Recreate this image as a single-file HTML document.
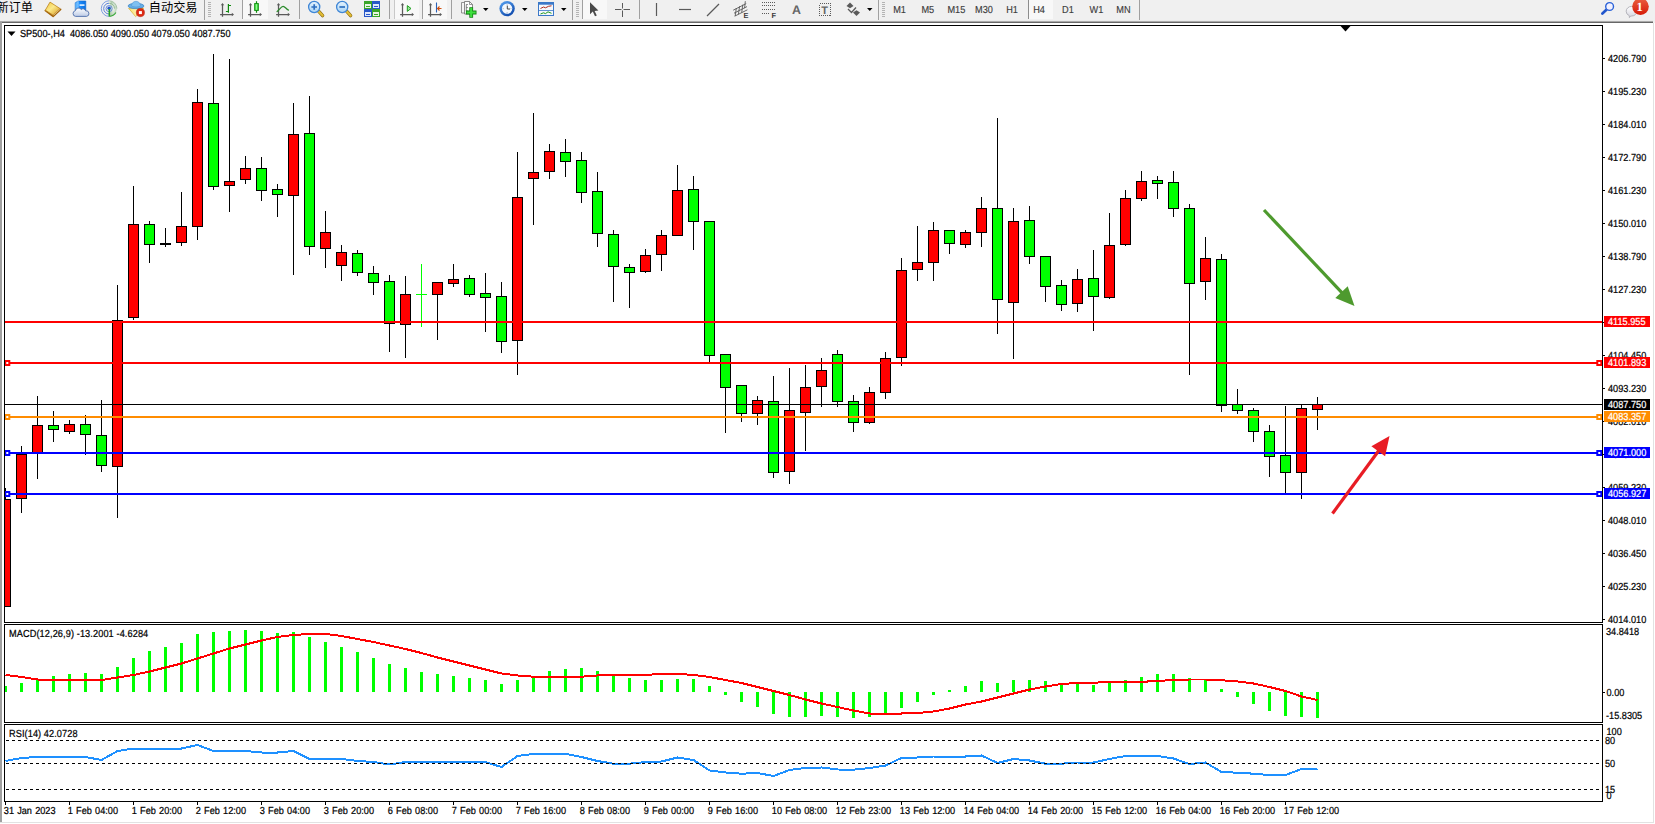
<!DOCTYPE html>
<html lang="zh-CN">
<head>
<meta charset="utf-8">
<title>SP500-,H4</title>
<style>
html,body{margin:0;padding:0;background:#fff;}
body{width:1655px;height:824px;overflow:hidden;position:relative;font-family:"Liberation Sans", sans-serif;}
#toolbar{position:absolute;left:0;top:0;width:1655px;height:20px;background:#f0f0f0;overflow:hidden;}
#tbline{position:absolute;left:0;top:20px;width:1655px;height:3px;background:#f0f0f0;}
#tbline i{position:absolute;left:0;width:1653px;height:1px;display:block;}
.cn{position:absolute;top:0;height:19px;line-height:16.5px;font-family:"Liberation Sans","Noto Sans CJK SC",sans-serif;font-size:12.2px;color:#000;white-space:nowrap;}
#frameL{position:absolute;left:0;top:22px;width:2px;height:800px;background:#a0a0a0;}
#frameR{position:absolute;left:1653px;top:23px;width:1px;height:800px;background:#e2e2e2;}
#frameB{position:absolute;left:0;top:822px;width:1654px;height:1px;background:#e2e2e2;}
svg{position:absolute;left:0;top:0;}
svg text{font-family:"Liberation Sans", sans-serif;white-space:pre;text-rendering:geometricPrecision;}
</style>
</head>
<body>
<div id="toolbar">
<svg width="1655" height="20" viewBox="0 0 1655 20">
<defs><linearGradient id="gBook" x1="0" y1="0" x2="1" y2="1"><stop offset="0" stop-color="#f3c53a"/><stop offset="0.45" stop-color="#fbe98a"/><stop offset="1" stop-color="#d9981a"/></linearGradient><linearGradient id="gCloud" x1="0" y1="0" x2="0" y2="1"><stop offset="0" stop-color="#ffffff"/><stop offset="1" stop-color="#bccbe6"/></linearGradient><linearGradient id="gBox" x1="0" y1="0" x2="1" y2="0"><stop offset="0" stop-color="#7cc8ff"/><stop offset="0.35" stop-color="#1e90ff"/><stop offset="1" stop-color="#0a6fe0"/></linearGradient><linearGradient id="gCone" x1="0" y1="0" x2="1" y2="0"><stop offset="0" stop-color="#f7df6a"/><stop offset="0.5" stop-color="#fdf0a8"/><stop offset="1" stop-color="#e8b81e"/></linearGradient><radialGradient id="gSig" cx="0.5" cy="0.5" r="0.5"><stop offset="0" stop-color="#9ed09e" stop-opacity="0.05"/><stop offset="1" stop-color="#6aa86a" stop-opacity="0.5"/></radialGradient></defs>
<g><path d="M45.4,10.6 L53.1,16.4 L60.6,9.4" fill="none" stroke="#a4640b" stroke-width="1.7" stroke-linejoin="round" stroke-linecap="round"/><path d="M53.6,15.1 L60,9.2" stroke="#f1e3b8" stroke-width="0.9"/><polygon points="50,2.1 60.1,8.6 53.1,15.1 45.3,10.2" fill="url(#gBook)" stroke="#b5770f" stroke-width="0.7" stroke-linejoin="round"/></g>
<g><path d="M75.2,2.8 L78,1 H85.8 V10.5 H75.2 z" fill="url(#gBox)" stroke="#0e6ad2" stroke-width="0.6"/><path d="M78,1 V10" stroke="#bfe4ff" stroke-width="0.7"/><rect x="79.5" y="4.3" width="5" height="1.6" fill="#e8f4ff"/><path d="M75.6,16.4 a2.9,2.9 0 0 1 -0.3,-5.7 a3.3,3.3 0 0 1 6,-1.2 a2.6,2.6 0 0 1 4.3,1.3 a2.8,2.8 0 0 1 1,5.6 z" fill="url(#gCloud)" stroke="#4e6eaa" stroke-width="0.9" stroke-linejoin="round"/></g>
<g fill="none"><path d="M110.5,1 a7.9,7.9 0 0 1 -0.5,15.5 z" fill="url(#gSig)"/><path d="M109.1,0.8 a7.8,7.8 0 0 0 0,15.6" stroke="#7f9fe0" stroke-width="1"/><path d="M109.1,3.2 a5.4,5.4 0 0 0 0,10.8" stroke="#5d84d8" stroke-width="1"/><path d="M109.1,0.8 a7.8,7.8 0 0 1 7.8,7.8" stroke="#9fbf9f" stroke-width="0.9"/><path d="M109.1,3.2 a5.4,5.4 0 0 1 5.4,5.4" stroke="#8db68d" stroke-width="0.9"/><circle cx="109.1" cy="8.6" r="3.1" stroke="#5f86da" stroke-width="0.9"/><circle cx="109.1" cy="8.3" r="1.7" fill="#2356c8"/><path d="M109.3,9 V16.4" stroke="#22a022" stroke-width="1.5"/><path d="M109.3,16.3 a7.8,7.8 0 0 0 6.6,-3.8" stroke="#3aa83a" stroke-width="1.2"/></g>
<g><path d="M128.6,8.2 L143.6,8 L139,13.5 L135.6,16.6 z" fill="url(#gCone)" stroke="#d2a21a" stroke-width="0.6" stroke-linejoin="round"/><ellipse cx="136" cy="6" rx="7.9" ry="2.7" fill="#66aee6" stroke="#3c84c6" stroke-width="0.7"/><path d="M131.6,5.6 a4.4,4.3 0 0 1 8.8,0 a4.4,1.4 0 0 1 -8.8,0 z" fill="#7fc0f0" stroke="#4a90d0" stroke-width="0.5"/><circle cx="140.4" cy="12.6" r="4.1" fill="#dc2a14"/><circle cx="140.4" cy="12.6" r="4.1" fill="none" stroke="#b41c0c" stroke-width="0.5"/><rect x="138.9" y="11.1" width="3" height="3" fill="#fff"/></g>
<rect x="204" y="0" width="1" height="20" fill="#a0a0a0" shape-rendering="crispEdges"/>
<g shape-rendering="crispEdges" fill="#b4b4b4"><rect x="208" y="2" width="3" height="1"/><rect x="208" y="4" width="3" height="1"/><rect x="208" y="6" width="3" height="1"/><rect x="208" y="8" width="3" height="1"/><rect x="208" y="10" width="3" height="1"/><rect x="208" y="12" width="3" height="1"/><rect x="208" y="14" width="3" height="1"/><rect x="208" y="16" width="3" height="1"/></g>
<g stroke="#5a5a5a" stroke-width="1.25" fill="none"><path d="M222.5,4.5 V16.8 M220.1,14.5 H232.5"/></g><g fill="#5a5a5a"><polygon points="220.8,5.2 222.5,2.9 224.2,5.2"/><polygon points="231.8,12.8 234,14.5 231.8,16.2"/></g>
<path d="M228.4,4.1 V12.8 M228.4,5.5 H231 M225.9,11.5 H228.4" stroke="#0f8a0f" stroke-width="1.2" fill="none"/>
<rect x="242" y="0" width="1" height="19" fill="#a0a0a0" shape-rendering="crispEdges"/>
<rect x="243" y="0" width="25" height="19" fill="#f8f8f8" shape-rendering="crispEdges"/>
<g stroke="#5a5a5a" stroke-width="1.25" fill="none"><path d="M250.5,4.5 V16.8 M248.1,14.5 H260.5"/></g><g fill="#5a5a5a"><polygon points="248.8,5.2 250.5,2.9 252.2,5.2"/><polygon points="259.8,12.8 262,14.5 259.8,16.2"/></g>
<defs><linearGradient id="gCan" x1="0" y1="0" x2="1" y2="0"><stop offset="0" stop-color="#2fd62f"/><stop offset="0.5" stop-color="#8dff8d"/><stop offset="1" stop-color="#22c822"/></linearGradient></defs><path d="M256.5,1.2 V12.8" stroke="#0f8f0f" stroke-width="1.2"/><rect x="254.7" y="3.6" width="3.6" height="6.8" fill="url(#gCan)" stroke="#0f8f0f" stroke-width="1"/>
<g stroke="#5a5a5a" stroke-width="1.25" fill="none"><path d="M278.5,4.5 V16.8 M276.1,14.5 H288.5"/></g><g fill="#5a5a5a"><polygon points="276.8,5.2 278.5,2.9 280.2,5.2"/><polygon points="287.8,12.8 290,14.5 287.8,16.2"/></g>
<path d="M277.1,11.6 C279.5,10 281,6.3 283.1,6.3 C285,6.3 286.2,9.3 288.5,10.1" stroke="#2a8a2a" stroke-width="1.2" fill="none" stroke-linecap="round"/>
<rect x="299" y="0" width="1" height="19" fill="#a0a0a0" shape-rendering="crispEdges"/>
<defs><linearGradient id="gLens" x1="0" y1="0" x2="0" y2="1"><stop offset="0" stop-color="#e6f3fd"/><stop offset="1" stop-color="#a9d4f5"/></linearGradient></defs>
<g><path d="M318.6,11.2 L322.6,15.6" stroke="#8a6a12" stroke-width="3.4" stroke-linecap="round"/><path d="M318.6,11.2 L322.6,15.6" stroke="#e2bd35" stroke-width="2.2" stroke-linecap="round"/><circle cx="314.2" cy="7" r="5.6" fill="url(#gLens)" stroke="#3f86d6" stroke-width="1.3"/><path d="M311.4,7 H317 M314.2,4.2 V9.8" stroke="#2e6fc0" stroke-width="1.7"/></g>
<g><path d="M346.6,11.2 L350.6,15.6" stroke="#8a6a12" stroke-width="3.4" stroke-linecap="round"/><path d="M346.6,11.2 L350.6,15.6" stroke="#e2bd35" stroke-width="2.2" stroke-linecap="round"/><circle cx="342.2" cy="7" r="5.6" fill="url(#gLens)" stroke="#3f86d6" stroke-width="1.3"/><path d="M339.4,7 H345" stroke="#2e6fc0" stroke-width="1.7"/></g>
<g shape-rendering="crispEdges"><rect x="364" y="1" width="8" height="8" fill="#3aa528"/><rect x="372" y="1" width="8" height="8" fill="#2857c8"/><rect x="364" y="9" width="8" height="8" fill="#2857c8"/><rect x="372" y="9" width="8" height="8" fill="#3aa528"/><rect x="365" y="4" width="6" height="4" fill="#e8f5e0"/><rect x="373" y="4" width="6" height="4" fill="#dfe8fb"/><rect x="365" y="12" width="6" height="4" fill="#dfe8fb"/><rect x="373" y="12" width="6" height="4" fill="#e8f5e0"/><rect x="366" y="5.5" width="4" height="1" fill="#3aa528"/><rect x="374" y="5.5" width="4" height="1" fill="#2857c8"/><rect x="366" y="13.5" width="4" height="1" fill="#2857c8"/><rect x="374" y="13.5" width="4" height="1" fill="#3aa528"/></g>
<rect x="389" y="0" width="1" height="19" fill="#a0a0a0" shape-rendering="crispEdges"/>
<rect x="394" y="0" width="1" height="19" fill="#c8c8c8" shape-rendering="crispEdges"/>
<rect x="395" y="0" width="24" height="19" fill="#f8f8f8" shape-rendering="crispEdges"/>
<g stroke="#5a5a5a" stroke-width="1.25" fill="none"><path d="M402.5,4.5 V16.8 M400.1,14.5 H412.5"/></g><g fill="#5a5a5a"><polygon points="400.8,5.2 402.5,2.9 404.2,5.2"/><polygon points="411.8,12.8 414,14.5 411.8,16.2"/></g>
<polygon points="407.3,5.6 407.3,11.4 411,8.5" fill="#9be49b" stroke="#1fa01f" stroke-width="1"/>
<rect x="422" y="0" width="1" height="19" fill="#a0a0a0" shape-rendering="crispEdges"/>
<rect x="423" y="0" width="24" height="19" fill="#f8f8f8" shape-rendering="crispEdges"/>
<g stroke="#5a5a5a" stroke-width="1.25" fill="none"><path d="M430.5,4.5 V16.8 M428.1,14.5 H440.5"/></g><g fill="#5a5a5a"><polygon points="428.8,5.2 430.5,2.9 432.2,5.2"/><polygon points="439.8,12.8 442,14.5 439.8,16.2"/></g>
<path d="M436.5,2.5 V12.5" stroke="#2a62b8" stroke-width="1.1"/><path d="M441.5,8.5 H437.5 M439.5,6.5 L437.5,8.5 L439.5,10.5" stroke="#d05010" stroke-width="1.1" fill="none"/>
<rect x="451" y="0" width="1" height="19" fill="#a0a0a0" shape-rendering="crispEdges"/>
<g><path d="M461.5,2.5 H466.5 L469,5 V13 H461.5 z" fill="#f4f4f4" stroke="#7a7a7a" stroke-width="0.8"/><path d="M464.5,1.5 H469.5 L472.5,4.5 V14 H464.5 z" fill="#fcfcfc" stroke="#6e6e6e" stroke-width="0.8"/><path d="M469.5,1.5 V4.5 H472.5" fill="none" stroke="#6e6e6e" stroke-width="0.7"/><path d="M466.3,4.5 v6.5 M466.3,4.5 h1.6 M466.3,7.6 h1.6 M466.3,11 h1.6" stroke="#555" stroke-width="0.7" fill="none"/><path d="M471.2,7.2 V17.8 M465.9,12.5 H476.5" stroke="#118011" stroke-width="3.8"/><path d="M471.2,8 V17 M466.7,12.5 H475.7" stroke="#3ee03e" stroke-width="2.2"/></g>
<polygon points="483,8 488.5,8 485.75,11" fill="#000"/>
<defs><linearGradient id="gClk" x1="0" y1="0" x2="0.6" y2="1"><stop offset="0" stop-color="#5aa6f4"/><stop offset="1" stop-color="#114cae"/></linearGradient></defs>
<g><circle cx="507.1" cy="8.6" r="7.7" fill="url(#gClk)"/><circle cx="507.1" cy="8.6" r="5.2" fill="#f4f8fc"/><path d="M507.1,4.2 v1 M507.1,12 v1 M502.7,8.6 h1 M510.5,8.6 h1" stroke="#8fa8c8" stroke-width="0.8"/><path d="M507.3,5.6 V9 H510" stroke="#444" stroke-width="1" fill="none"/></g>
<polygon points="522,8 527.5,8 524.75,11" fill="#000"/>
<g><rect x="538.5" y="2.5" width="15" height="13" fill="#f5f8fc" stroke="#3b78c8" stroke-width="1"/><rect x="538.5" y="2.5" width="15" height="2.2" fill="#3b78c8"/><path d="M539,10.5 H553" stroke="#3b78c8" stroke-width="0.8"/><path d="M540.5,8.5 l3,-1.5 l2,0.8 l3,-1.5 l3,-0.5" stroke="#b02a1a" stroke-width="1" fill="none"/><path d="M540.5,14 l3,-1.2 l2,0.8 l2.5,-1.8 l3.5,1.5" stroke="#1d9a1d" stroke-width="1" fill="none"/></g>
<polygon points="561,8 566.5,8 563.75,11" fill="#000"/>
<rect x="572" y="0" width="1" height="20" fill="#a0a0a0" shape-rendering="crispEdges"/>
<g shape-rendering="crispEdges" fill="#b4b4b4"><rect x="576" y="2" width="3" height="1"/><rect x="576" y="4" width="3" height="1"/><rect x="576" y="6" width="3" height="1"/><rect x="576" y="8" width="3" height="1"/><rect x="576" y="10" width="3" height="1"/><rect x="576" y="12" width="3" height="1"/><rect x="576" y="14" width="3" height="1"/><rect x="576" y="16" width="3" height="1"/></g>
<rect x="582" y="0" width="1" height="19" fill="#a0a0a0" shape-rendering="crispEdges"/>
<rect x="583" y="0" width="24" height="19" fill="#f8f8f8" shape-rendering="crispEdges"/>
<polygon points="590,2.2 590,14.2 592.8,11.6 595,16.2 596.8,15.4 594.6,10.9 598.4,10.6" fill="#4a4a4a"/>
<path d="M622.5,2.5 V16.5 M615,9.5 H630" stroke="#5a5a5a" stroke-width="1.1" shape-rendering="crispEdges"/><rect x="621.5" y="8.5" width="2" height="2" fill="#f0f0f0"/>
<rect x="639" y="0" width="1" height="19" fill="#a0a0a0" shape-rendering="crispEdges"/>
<path d="M656.5,3 V16" stroke="#5a5a5a" stroke-width="1.2"/>
<path d="M679,9.5 H691" stroke="#5a5a5a" stroke-width="1.2"/>
<path d="M707,16 L719,4" stroke="#5a5a5a" stroke-width="1.2"/>
<g stroke="#5a5a5a" stroke-width="0.9" fill="none"><path d="M733.2,10.2 L746.2,3.6 M734,13.2 L747,6.6 M734.6,16.2 L747.4,9.8 M736.3,8 L735.2,16 M739.6,6.2 L738.4,14.4 M742.8,4.6 L741.7,12.6 M745.3,1.2 L744.6,8.2"/></g>
<text x="743.6" y="17.9" font-size="7.4" font-weight="bold" fill="#3a3a3a">E</text>
<g stroke="#5a5a5a" stroke-width="1" stroke-dasharray="1 1" shape-rendering="crispEdges"><path d="M762,2.5 H775 M762,5.5 H775 M762,9.5 H775 M762,13.5 H770"/></g>
<text x="771.6" y="17.9" font-size="7.4" font-weight="bold" fill="#3a3a3a">F</text>
<text x="792" y="13.9" font-size="12.4" font-weight="bold" fill="#666">A</text>
<rect x="819.5" y="3.5" width="11" height="12" fill="none" stroke="#5a5a5a" stroke-width="1" stroke-dasharray="1 1" shape-rendering="crispEdges"/>
<text x="821.3" y="13.6" font-size="11" font-weight="bold" fill="#666">T</text>
<g fill="#5a5a5a"><polygon points="846.5,6 850,2.5 853.5,6 850,8.2"/><polygon points="853,12.5 856.5,10.2 860,12.5 856.5,16"/><path d="M848,9 L851.5,12.5 L856,7.5" stroke="#5a5a5a" stroke-width="1.3" fill="none"/></g>
<polygon points="867,8 872.5,8 869.75,11" fill="#000"/>
<rect x="878" y="0" width="1" height="20" fill="#a0a0a0" shape-rendering="crispEdges"/>
<g shape-rendering="crispEdges" fill="#b4b4b4"><rect x="882" y="2" width="3" height="1"/><rect x="882" y="4" width="3" height="1"/><rect x="882" y="6" width="3" height="1"/><rect x="882" y="8" width="3" height="1"/><rect x="882" y="10" width="3" height="1"/><rect x="882" y="12" width="3" height="1"/><rect x="882" y="14" width="3" height="1"/><rect x="882" y="16" width="3" height="1"/></g>
<rect x="1029" y="0" width="24" height="19" fill="#f8f8f8" shape-rendering="crispEdges"/>
<rect x="1028" y="0" width="1" height="19" fill="#8c8c8c" shape-rendering="crispEdges"/>
<text transform="translate(893.2,12.9) scale(0.9,1)" font-size="10.2" fill="#3c3c3c" stroke="#3c3c3c" stroke-width="0.15">M1</text>
<text transform="translate(921.4,12.9) scale(0.9,1)" font-size="10.2" fill="#3c3c3c" stroke="#3c3c3c" stroke-width="0.15">M5</text>
<text transform="translate(947.4,12.9) scale(0.9,1)" font-size="10.2" fill="#3c3c3c" stroke="#3c3c3c" stroke-width="0.15">M15</text>
<text transform="translate(975.1,12.9) scale(0.9,1)" font-size="10.2" fill="#3c3c3c" stroke="#3c3c3c" stroke-width="0.15">M30</text>
<text transform="translate(1006.2,12.9) scale(0.9,1)" font-size="10.2" fill="#3c3c3c" stroke="#3c3c3c" stroke-width="0.15">H1</text>
<text transform="translate(1033.1999999999998,12.9) scale(0.9,1)" font-size="10.2" fill="#3c3c3c" stroke="#3c3c3c" stroke-width="0.15">H4</text>
<text transform="translate(1062.1,12.9) scale(0.9,1)" font-size="10.2" fill="#3c3c3c" stroke="#3c3c3c" stroke-width="0.15">D1</text>
<text transform="translate(1089.6,12.9) scale(0.9,1)" font-size="10.2" fill="#3c3c3c" stroke="#3c3c3c" stroke-width="0.15">W1</text>
<text transform="translate(1116.3,12.9) scale(0.9,1)" font-size="10.2" fill="#3c3c3c" stroke="#3c3c3c" stroke-width="0.15">MN</text>
<rect x="1139" y="0" width="1" height="20" fill="#a0a0a0" shape-rendering="crispEdges"/>
<g><path d="M1602.4,13.6 L1606.4,9.8" stroke="#2256cc" stroke-width="2.7" stroke-linecap="round"/><circle cx="1609.6" cy="6.5" r="3.9" fill="#f1f1ff" stroke="#2a62d8" stroke-width="1.4"/></g>
<defs><linearGradient id="gBadge" x1="0" y1="0" x2="0" y2="1"><stop offset="0" stop-color="#ea6040"/><stop offset="1" stop-color="#d61a06"/></linearGradient><linearGradient id="gBub" x1="0" y1="0" x2="0" y2="1"><stop offset="0" stop-color="#ffffff"/><stop offset="1" stop-color="#d4d4de"/></linearGradient></defs>
<g><path d="M1626.2,11.2 a5.4,4.8 0 0 1 10.8,0 a5.4,4.8 0 0 1 -5.4,4.8 h-1 l-1.2,1.6 l-0.1,-1.9 a5.4,4.8 0 0 1 -3.1,-4.5 z" fill="url(#gBub)" stroke="#aeaeb4" stroke-width="0.9"/><circle cx="1640.5" cy="6.6" r="8.3" fill="url(#gBadge)"/></g>
<text x="1636.6" y="10.9" font-size="12.6" font-weight="bold" fill="#fff" style="font-family:'Liberation Serif',serif">1</text>
</svg>
<span class="cn" style="left:-3.6px">新订单</span>
<span class="cn" style="left:148.8px">自动交易</span>
</div>
<div id="tbline"><i style="top:0;background:#ebebeb"></i><i style="top:1px;background:#a9a9a9"></i><i style="top:2px;background:#676767"></i></div>
<div id="frameL"></div><div id="frameR"></div><div id="frameB"></div>
<svg id="chart" width="1655" height="824" viewBox="0 0 1655 824">
<g shape-rendering="crispEdges">
<rect x="5" y="488" width="1" height="119" fill="#000"/>
<rect x="0" y="499" width="11" height="108" fill="#000"/>
<rect x="1" y="500" width="9" height="106" fill="#ff0000"/>
<rect x="21" y="446" width="1" height="67" fill="#000"/>
<rect x="16" y="454" width="11" height="45" fill="#000"/>
<rect x="17" y="455" width="9" height="43" fill="#ff0000"/>
<rect x="37" y="396" width="1" height="83" fill="#000"/>
<rect x="32" y="425" width="11" height="29" fill="#000"/>
<rect x="33" y="426" width="9" height="27" fill="#ff0000"/>
<rect x="53" y="411" width="1" height="31" fill="#000"/>
<rect x="48" y="425" width="11" height="5" fill="#000"/>
<rect x="49" y="426" width="9" height="3" fill="#00ff00"/>
<rect x="69" y="420" width="1" height="14" fill="#000"/>
<rect x="64" y="424" width="11" height="8" fill="#000"/>
<rect x="65" y="425" width="9" height="6" fill="#ff0000"/>
<rect x="85" y="415" width="1" height="40" fill="#000"/>
<rect x="80" y="424" width="11" height="11" fill="#000"/>
<rect x="81" y="425" width="9" height="9" fill="#00ff00"/>
<rect x="101" y="400" width="1" height="72" fill="#000"/>
<rect x="96" y="435" width="11" height="31" fill="#000"/>
<rect x="97" y="436" width="9" height="29" fill="#00ff00"/>
<rect x="117" y="285" width="1" height="233" fill="#000"/>
<rect x="112" y="320" width="11" height="147" fill="#000"/>
<rect x="113" y="321" width="9" height="145" fill="#ff0000"/>
<rect x="133" y="186" width="1" height="134" fill="#000"/>
<rect x="128" y="224" width="11" height="94" fill="#000"/>
<rect x="129" y="225" width="9" height="92" fill="#ff0000"/>
<rect x="149" y="221" width="1" height="42" fill="#000"/>
<rect x="144" y="224" width="11" height="21" fill="#000"/>
<rect x="145" y="225" width="9" height="19" fill="#00ff00"/>
<rect x="165" y="228" width="1" height="19" fill="#000"/>
<rect x="160" y="243" width="11" height="2" fill="#000"/>
<rect x="181" y="192" width="1" height="54" fill="#000"/>
<rect x="176" y="226" width="11" height="17" fill="#000"/>
<rect x="177" y="227" width="9" height="15" fill="#ff0000"/>
<rect x="197" y="89" width="1" height="151" fill="#000"/>
<rect x="192" y="102" width="11" height="125" fill="#000"/>
<rect x="193" y="103" width="9" height="123" fill="#ff0000"/>
<rect x="213" y="54" width="1" height="136" fill="#000"/>
<rect x="208" y="103" width="11" height="84" fill="#000"/>
<rect x="209" y="104" width="9" height="82" fill="#00ff00"/>
<rect x="229" y="59" width="1" height="153" fill="#000"/>
<rect x="224" y="181" width="11" height="5" fill="#000"/>
<rect x="225" y="182" width="9" height="3" fill="#ff0000"/>
<rect x="245" y="156" width="1" height="28" fill="#000"/>
<rect x="240" y="168" width="11" height="12" fill="#000"/>
<rect x="241" y="169" width="9" height="10" fill="#ff0000"/>
<rect x="261" y="157" width="1" height="44" fill="#000"/>
<rect x="256" y="168" width="11" height="23" fill="#000"/>
<rect x="257" y="169" width="9" height="21" fill="#00ff00"/>
<rect x="277" y="184" width="1" height="33" fill="#000"/>
<rect x="272" y="189" width="11" height="6" fill="#000"/>
<rect x="273" y="190" width="9" height="4" fill="#00ff00"/>
<rect x="293" y="103" width="1" height="172" fill="#000"/>
<rect x="288" y="134" width="11" height="62" fill="#000"/>
<rect x="289" y="135" width="9" height="60" fill="#ff0000"/>
<rect x="309" y="96" width="1" height="159" fill="#000"/>
<rect x="304" y="133" width="11" height="114" fill="#000"/>
<rect x="305" y="134" width="9" height="112" fill="#00ff00"/>
<rect x="325" y="211" width="1" height="57" fill="#000"/>
<rect x="320" y="232" width="11" height="17" fill="#000"/>
<rect x="321" y="233" width="9" height="15" fill="#ff0000"/>
<rect x="341" y="245" width="1" height="36" fill="#000"/>
<rect x="336" y="252" width="11" height="14" fill="#000"/>
<rect x="337" y="253" width="9" height="12" fill="#ff0000"/>
<rect x="357" y="250" width="1" height="26" fill="#000"/>
<rect x="352" y="253" width="11" height="20" fill="#000"/>
<rect x="353" y="254" width="9" height="18" fill="#00ff00"/>
<rect x="373" y="266" width="1" height="29" fill="#000"/>
<rect x="368" y="273" width="11" height="10" fill="#000"/>
<rect x="369" y="274" width="9" height="8" fill="#00ff00"/>
<rect x="389" y="275" width="1" height="77" fill="#000"/>
<rect x="384" y="281" width="11" height="43" fill="#000"/>
<rect x="385" y="282" width="9" height="41" fill="#00ff00"/>
<rect x="405" y="276" width="1" height="82" fill="#000"/>
<rect x="400" y="294" width="11" height="31" fill="#000"/>
<rect x="401" y="295" width="9" height="29" fill="#ff0000"/>
<rect x="437" y="282" width="1" height="58" fill="#000"/>
<rect x="432" y="282" width="11" height="13" fill="#000"/>
<rect x="433" y="283" width="9" height="11" fill="#ff0000"/>
<rect x="453" y="264" width="1" height="23" fill="#000"/>
<rect x="448" y="279" width="11" height="5" fill="#000"/>
<rect x="449" y="280" width="9" height="3" fill="#ff0000"/>
<rect x="469" y="275" width="1" height="22" fill="#000"/>
<rect x="464" y="278" width="11" height="17" fill="#000"/>
<rect x="465" y="279" width="9" height="15" fill="#00ff00"/>
<rect x="485" y="273" width="1" height="59" fill="#000"/>
<rect x="480" y="293" width="11" height="5" fill="#000"/>
<rect x="481" y="294" width="9" height="3" fill="#00ff00"/>
<rect x="501" y="282" width="1" height="71" fill="#000"/>
<rect x="496" y="296" width="11" height="46" fill="#000"/>
<rect x="497" y="297" width="9" height="44" fill="#00ff00"/>
<rect x="517" y="152" width="1" height="223" fill="#000"/>
<rect x="512" y="197" width="11" height="144" fill="#000"/>
<rect x="513" y="198" width="9" height="142" fill="#ff0000"/>
<rect x="533" y="113" width="1" height="112" fill="#000"/>
<rect x="528" y="172" width="11" height="7" fill="#000"/>
<rect x="529" y="173" width="9" height="5" fill="#ff0000"/>
<rect x="549" y="144" width="1" height="35" fill="#000"/>
<rect x="544" y="151" width="11" height="21" fill="#000"/>
<rect x="545" y="152" width="9" height="19" fill="#ff0000"/>
<rect x="565" y="139" width="1" height="38" fill="#000"/>
<rect x="560" y="152" width="11" height="10" fill="#000"/>
<rect x="561" y="153" width="9" height="8" fill="#00ff00"/>
<rect x="581" y="152" width="1" height="51" fill="#000"/>
<rect x="576" y="160" width="11" height="33" fill="#000"/>
<rect x="577" y="161" width="9" height="31" fill="#00ff00"/>
<rect x="597" y="172" width="1" height="75" fill="#000"/>
<rect x="592" y="191" width="11" height="43" fill="#000"/>
<rect x="593" y="192" width="9" height="41" fill="#00ff00"/>
<rect x="613" y="230" width="1" height="72" fill="#000"/>
<rect x="608" y="234" width="11" height="33" fill="#000"/>
<rect x="609" y="235" width="9" height="31" fill="#00ff00"/>
<rect x="629" y="264" width="1" height="44" fill="#000"/>
<rect x="624" y="267" width="11" height="6" fill="#000"/>
<rect x="625" y="268" width="9" height="4" fill="#00ff00"/>
<rect x="645" y="249" width="1" height="24" fill="#000"/>
<rect x="640" y="255" width="11" height="17" fill="#000"/>
<rect x="641" y="256" width="9" height="15" fill="#ff0000"/>
<rect x="661" y="230" width="1" height="41" fill="#000"/>
<rect x="656" y="235" width="11" height="20" fill="#000"/>
<rect x="657" y="236" width="9" height="18" fill="#ff0000"/>
<rect x="677" y="165" width="1" height="71" fill="#000"/>
<rect x="672" y="190" width="11" height="46" fill="#000"/>
<rect x="673" y="191" width="9" height="44" fill="#ff0000"/>
<rect x="693" y="176" width="1" height="74" fill="#000"/>
<rect x="688" y="189" width="11" height="33" fill="#000"/>
<rect x="689" y="190" width="9" height="31" fill="#00ff00"/>
<rect x="709" y="221" width="1" height="141" fill="#000"/>
<rect x="704" y="221" width="11" height="135" fill="#000"/>
<rect x="705" y="222" width="9" height="133" fill="#00ff00"/>
<rect x="725" y="354" width="1" height="79" fill="#000"/>
<rect x="720" y="354" width="11" height="34" fill="#000"/>
<rect x="721" y="355" width="9" height="32" fill="#00ff00"/>
<rect x="741" y="385" width="1" height="37" fill="#000"/>
<rect x="736" y="385" width="11" height="29" fill="#000"/>
<rect x="737" y="386" width="9" height="27" fill="#00ff00"/>
<rect x="757" y="396" width="1" height="29" fill="#000"/>
<rect x="752" y="400" width="11" height="14" fill="#000"/>
<rect x="753" y="401" width="9" height="12" fill="#ff0000"/>
<rect x="773" y="376" width="1" height="102" fill="#000"/>
<rect x="768" y="401" width="11" height="72" fill="#000"/>
<rect x="769" y="402" width="9" height="70" fill="#00ff00"/>
<rect x="789" y="368" width="1" height="116" fill="#000"/>
<rect x="784" y="410" width="11" height="62" fill="#000"/>
<rect x="785" y="411" width="9" height="60" fill="#ff0000"/>
<rect x="805" y="365" width="1" height="86" fill="#000"/>
<rect x="800" y="387" width="11" height="26" fill="#000"/>
<rect x="801" y="388" width="9" height="24" fill="#ff0000"/>
<rect x="821" y="358" width="1" height="49" fill="#000"/>
<rect x="816" y="370" width="11" height="17" fill="#000"/>
<rect x="817" y="371" width="9" height="15" fill="#ff0000"/>
<rect x="837" y="350" width="1" height="57" fill="#000"/>
<rect x="832" y="354" width="11" height="48" fill="#000"/>
<rect x="833" y="355" width="9" height="46" fill="#00ff00"/>
<rect x="853" y="395" width="1" height="37" fill="#000"/>
<rect x="848" y="401" width="11" height="22" fill="#000"/>
<rect x="849" y="402" width="9" height="20" fill="#00ff00"/>
<rect x="869" y="387" width="1" height="37" fill="#000"/>
<rect x="864" y="392" width="11" height="31" fill="#000"/>
<rect x="865" y="393" width="9" height="29" fill="#ff0000"/>
<rect x="885" y="352" width="1" height="47" fill="#000"/>
<rect x="880" y="358" width="11" height="35" fill="#000"/>
<rect x="881" y="359" width="9" height="33" fill="#ff0000"/>
<rect x="901" y="258" width="1" height="108" fill="#000"/>
<rect x="896" y="270" width="11" height="88" fill="#000"/>
<rect x="897" y="271" width="9" height="86" fill="#ff0000"/>
<rect x="917" y="226" width="1" height="55" fill="#000"/>
<rect x="912" y="262" width="11" height="8" fill="#000"/>
<rect x="913" y="263" width="9" height="6" fill="#ff0000"/>
<rect x="933" y="222" width="1" height="59" fill="#000"/>
<rect x="928" y="230" width="11" height="33" fill="#000"/>
<rect x="929" y="231" width="9" height="31" fill="#ff0000"/>
<rect x="949" y="230" width="1" height="24" fill="#000"/>
<rect x="944" y="230" width="11" height="14" fill="#000"/>
<rect x="945" y="231" width="9" height="12" fill="#00ff00"/>
<rect x="965" y="230" width="1" height="18" fill="#000"/>
<rect x="960" y="232" width="11" height="13" fill="#000"/>
<rect x="961" y="233" width="9" height="11" fill="#ff0000"/>
<rect x="981" y="197" width="1" height="50" fill="#000"/>
<rect x="976" y="208" width="11" height="25" fill="#000"/>
<rect x="977" y="209" width="9" height="23" fill="#ff0000"/>
<rect x="997" y="118" width="1" height="216" fill="#000"/>
<rect x="992" y="208" width="11" height="92" fill="#000"/>
<rect x="993" y="209" width="9" height="90" fill="#00ff00"/>
<rect x="1013" y="208" width="1" height="151" fill="#000"/>
<rect x="1008" y="221" width="11" height="82" fill="#000"/>
<rect x="1009" y="222" width="9" height="80" fill="#ff0000"/>
<rect x="1029" y="206" width="1" height="58" fill="#000"/>
<rect x="1024" y="220" width="11" height="37" fill="#000"/>
<rect x="1025" y="221" width="9" height="35" fill="#00ff00"/>
<rect x="1045" y="256" width="1" height="46" fill="#000"/>
<rect x="1040" y="256" width="11" height="31" fill="#000"/>
<rect x="1041" y="257" width="9" height="29" fill="#00ff00"/>
<rect x="1061" y="280" width="1" height="31" fill="#000"/>
<rect x="1056" y="285" width="11" height="20" fill="#000"/>
<rect x="1057" y="286" width="9" height="18" fill="#00ff00"/>
<rect x="1077" y="269" width="1" height="43" fill="#000"/>
<rect x="1072" y="279" width="11" height="25" fill="#000"/>
<rect x="1073" y="280" width="9" height="23" fill="#ff0000"/>
<rect x="1093" y="250" width="1" height="81" fill="#000"/>
<rect x="1088" y="278" width="11" height="19" fill="#000"/>
<rect x="1089" y="279" width="9" height="17" fill="#00ff00"/>
<rect x="1109" y="213" width="1" height="86" fill="#000"/>
<rect x="1104" y="245" width="11" height="53" fill="#000"/>
<rect x="1105" y="246" width="9" height="51" fill="#ff0000"/>
<rect x="1125" y="190" width="1" height="56" fill="#000"/>
<rect x="1120" y="198" width="11" height="47" fill="#000"/>
<rect x="1121" y="199" width="9" height="45" fill="#ff0000"/>
<rect x="1141" y="171" width="1" height="30" fill="#000"/>
<rect x="1136" y="181" width="11" height="18" fill="#000"/>
<rect x="1137" y="182" width="9" height="16" fill="#ff0000"/>
<rect x="1157" y="176" width="1" height="23" fill="#000"/>
<rect x="1152" y="180" width="11" height="4" fill="#000"/>
<rect x="1153" y="181" width="9" height="2" fill="#00ff00"/>
<rect x="1173" y="171" width="1" height="46" fill="#000"/>
<rect x="1168" y="182" width="11" height="27" fill="#000"/>
<rect x="1169" y="183" width="9" height="25" fill="#00ff00"/>
<rect x="1189" y="204" width="1" height="171" fill="#000"/>
<rect x="1184" y="208" width="11" height="76" fill="#000"/>
<rect x="1185" y="209" width="9" height="74" fill="#00ff00"/>
<rect x="1205" y="237" width="1" height="63" fill="#000"/>
<rect x="1200" y="258" width="11" height="24" fill="#000"/>
<rect x="1201" y="259" width="9" height="22" fill="#ff0000"/>
<rect x="1221" y="254" width="1" height="158" fill="#000"/>
<rect x="1216" y="259" width="11" height="147" fill="#000"/>
<rect x="1217" y="260" width="9" height="145" fill="#00ff00"/>
<rect x="1237" y="389" width="1" height="25" fill="#000"/>
<rect x="1232" y="404" width="11" height="7" fill="#000"/>
<rect x="1233" y="405" width="9" height="5" fill="#00ff00"/>
<rect x="1253" y="408" width="1" height="34" fill="#000"/>
<rect x="1248" y="410" width="11" height="22" fill="#000"/>
<rect x="1249" y="411" width="9" height="20" fill="#00ff00"/>
<rect x="1269" y="425" width="1" height="52" fill="#000"/>
<rect x="1264" y="431" width="11" height="26" fill="#000"/>
<rect x="1265" y="432" width="9" height="24" fill="#00ff00"/>
<rect x="1285" y="406" width="1" height="88" fill="#000"/>
<rect x="1280" y="455" width="11" height="18" fill="#000"/>
<rect x="1281" y="456" width="9" height="16" fill="#00ff00"/>
<rect x="1301" y="405" width="1" height="94" fill="#000"/>
<rect x="1296" y="408" width="11" height="65" fill="#000"/>
<rect x="1297" y="409" width="9" height="63" fill="#ff0000"/>
<rect x="1317" y="397" width="1" height="33" fill="#000"/>
<rect x="1312" y="404" width="11" height="6" fill="#000"/>
<rect x="1313" y="405" width="9" height="4" fill="#ff0000"/>
<rect x="421" y="264" width="1" height="63" fill="#00ff00"/>
<rect x="416" y="294" width="11" height="1" fill="#00ff00"/>
</g>
<g shape-rendering="crispEdges">
<rect x="5" y="404" width="1597" height="1" fill="#000"/>
<rect x="5" y="321" width="1597" height="2" fill="#ff0000"/>
<rect x="5" y="362" width="1597" height="2" fill="#ff0000"/>
<rect x="4.3" y="360" width="6" height="6" fill="#ff0000" shape-rendering="auto"/><rect x="6.3" y="362" width="2" height="2" fill="#fff" shape-rendering="auto"/>
<rect x="1596.3" y="360" width="6" height="6" fill="#ff0000" shape-rendering="auto"/><rect x="1598.3" y="362" width="2" height="2" fill="#fff" shape-rendering="auto"/>
<rect x="5" y="416" width="1597" height="2" fill="#ff8c00"/>
<rect x="4.3" y="414" width="6" height="6" fill="#ff8c00" shape-rendering="auto"/><rect x="6.3" y="416" width="2" height="2" fill="#fff" shape-rendering="auto"/>
<rect x="1596.3" y="414" width="6" height="6" fill="#ff8c00" shape-rendering="auto"/><rect x="1598.3" y="416" width="2" height="2" fill="#fff" shape-rendering="auto"/>
<rect x="5" y="452" width="1597" height="2" fill="#0000ff"/>
<rect x="4.3" y="450" width="6" height="6" fill="#0000ff" shape-rendering="auto"/><rect x="6.3" y="452" width="2" height="2" fill="#fff" shape-rendering="auto"/>
<rect x="1596.3" y="450" width="6" height="6" fill="#0000ff" shape-rendering="auto"/><rect x="1598.3" y="452" width="2" height="2" fill="#fff" shape-rendering="auto"/>
<rect x="5" y="493" width="1597" height="2" fill="#0000ff"/>
<rect x="4.3" y="491" width="6" height="6" fill="#0000ff" shape-rendering="auto"/><rect x="6.3" y="493" width="2" height="2" fill="#fff" shape-rendering="auto"/>
<rect x="1596.3" y="491" width="6" height="6" fill="#0000ff" shape-rendering="auto"/><rect x="1598.3" y="493" width="2" height="2" fill="#fff" shape-rendering="auto"/>
</g>
<rect x="0" y="26" width="4" height="597" fill="#fff" shape-rendering="crispEdges"/>
<rect x="0" y="22" width="2" height="800" fill="#a0a0a0" shape-rendering="crispEdges"/>
<line x1="1264" y1="210" x2="1342.8" y2="293.6" stroke="#4e9a2e" stroke-width="3.2"/>
<polygon points="1354.5,306 1335.3,298.0 1347.7,286.3" fill="#4e9a2e"/>
<line x1="1332.5" y1="513.5" x2="1379.4" y2="449.7" stroke="#e81c24" stroke-width="3.2"/>
<polygon points="1389.5,436 1385.1,456.3 1371.4,446.3" fill="#e81c24"/>
<g shape-rendering="crispEdges">
<rect x="4" y="686" width="3" height="6" fill="#00ff00"/>
<rect x="20" y="683" width="3" height="9" fill="#00ff00"/>
<rect x="36" y="680" width="3" height="12" fill="#00ff00"/>
<rect x="52" y="676" width="3" height="16" fill="#00ff00"/>
<rect x="68" y="674" width="3" height="18" fill="#00ff00"/>
<rect x="84" y="673" width="3" height="19" fill="#00ff00"/>
<rect x="100" y="674" width="3" height="18" fill="#00ff00"/>
<rect x="116" y="667" width="3" height="25" fill="#00ff00"/>
<rect x="132" y="658" width="3" height="34" fill="#00ff00"/>
<rect x="148" y="651" width="3" height="41" fill="#00ff00"/>
<rect x="164" y="647" width="3" height="45" fill="#00ff00"/>
<rect x="180" y="643" width="3" height="49" fill="#00ff00"/>
<rect x="196" y="634" width="3" height="58" fill="#00ff00"/>
<rect x="212" y="632" width="3" height="60" fill="#00ff00"/>
<rect x="228" y="631" width="3" height="61" fill="#00ff00"/>
<rect x="244" y="630" width="3" height="62" fill="#00ff00"/>
<rect x="260" y="631" width="3" height="61" fill="#00ff00"/>
<rect x="276" y="633" width="3" height="59" fill="#00ff00"/>
<rect x="292" y="632" width="3" height="60" fill="#00ff00"/>
<rect x="308" y="637" width="3" height="55" fill="#00ff00"/>
<rect x="324" y="642" width="3" height="50" fill="#00ff00"/>
<rect x="340" y="647" width="3" height="45" fill="#00ff00"/>
<rect x="356" y="652" width="3" height="40" fill="#00ff00"/>
<rect x="372" y="658" width="3" height="34" fill="#00ff00"/>
<rect x="388" y="664" width="3" height="28" fill="#00ff00"/>
<rect x="404" y="668" width="3" height="24" fill="#00ff00"/>
<rect x="420" y="672" width="3" height="20" fill="#00ff00"/>
<rect x="436" y="674" width="3" height="18" fill="#00ff00"/>
<rect x="452" y="676" width="3" height="16" fill="#00ff00"/>
<rect x="468" y="678" width="3" height="14" fill="#00ff00"/>
<rect x="484" y="680" width="3" height="12" fill="#00ff00"/>
<rect x="500" y="684" width="3" height="8" fill="#00ff00"/>
<rect x="516" y="680" width="3" height="12" fill="#00ff00"/>
<rect x="532" y="677" width="3" height="15" fill="#00ff00"/>
<rect x="548" y="671" width="3" height="21" fill="#00ff00"/>
<rect x="564" y="669" width="3" height="23" fill="#00ff00"/>
<rect x="580" y="668" width="3" height="24" fill="#00ff00"/>
<rect x="596" y="671" width="3" height="21" fill="#00ff00"/>
<rect x="612" y="676" width="3" height="16" fill="#00ff00"/>
<rect x="628" y="678" width="3" height="14" fill="#00ff00"/>
<rect x="644" y="680" width="3" height="12" fill="#00ff00"/>
<rect x="660" y="680" width="3" height="12" fill="#00ff00"/>
<rect x="676" y="679" width="3" height="13" fill="#00ff00"/>
<rect x="692" y="679" width="3" height="13" fill="#00ff00"/>
<rect x="708" y="686" width="3" height="6" fill="#00ff00"/>
<rect x="724" y="692" width="3" height="3" fill="#00ff00"/>
<rect x="740" y="692" width="3" height="10" fill="#00ff00"/>
<rect x="756" y="692" width="3" height="15" fill="#00ff00"/>
<rect x="772" y="692" width="3" height="22" fill="#00ff00"/>
<rect x="788" y="692" width="3" height="25" fill="#00ff00"/>
<rect x="804" y="692" width="3" height="25" fill="#00ff00"/>
<rect x="820" y="692" width="3" height="24" fill="#00ff00"/>
<rect x="836" y="692" width="3" height="25" fill="#00ff00"/>
<rect x="852" y="692" width="3" height="26" fill="#00ff00"/>
<rect x="868" y="692" width="3" height="25" fill="#00ff00"/>
<rect x="884" y="692" width="3" height="22" fill="#00ff00"/>
<rect x="900" y="692" width="3" height="16" fill="#00ff00"/>
<rect x="916" y="692" width="3" height="10" fill="#00ff00"/>
<rect x="932" y="692" width="3" height="3" fill="#00ff00"/>
<rect x="948" y="690" width="3" height="2" fill="#00ff00"/>
<rect x="964" y="686" width="3" height="6" fill="#00ff00"/>
<rect x="980" y="681" width="3" height="11" fill="#00ff00"/>
<rect x="996" y="683" width="3" height="9" fill="#00ff00"/>
<rect x="1012" y="680" width="3" height="12" fill="#00ff00"/>
<rect x="1028" y="680" width="3" height="12" fill="#00ff00"/>
<rect x="1044" y="681" width="3" height="11" fill="#00ff00"/>
<rect x="1060" y="683" width="3" height="9" fill="#00ff00"/>
<rect x="1076" y="683" width="3" height="9" fill="#00ff00"/>
<rect x="1092" y="685" width="3" height="7" fill="#00ff00"/>
<rect x="1108" y="683" width="3" height="9" fill="#00ff00"/>
<rect x="1124" y="680" width="3" height="12" fill="#00ff00"/>
<rect x="1140" y="677" width="3" height="15" fill="#00ff00"/>
<rect x="1156" y="674" width="3" height="18" fill="#00ff00"/>
<rect x="1172" y="674" width="3" height="18" fill="#00ff00"/>
<rect x="1188" y="678" width="3" height="14" fill="#00ff00"/>
<rect x="1204" y="680" width="3" height="12" fill="#00ff00"/>
<rect x="1220" y="689" width="3" height="3" fill="#00ff00"/>
<rect x="1236" y="692" width="3" height="5" fill="#00ff00"/>
<rect x="1252" y="692" width="3" height="12" fill="#00ff00"/>
<rect x="1268" y="692" width="3" height="19" fill="#00ff00"/>
<rect x="1284" y="692" width="3" height="24" fill="#00ff00"/>
<rect x="1300" y="692" width="3" height="25" fill="#00ff00"/>
<rect x="1316" y="692" width="3" height="26" fill="#00ff00"/>
</g>
<polyline points="5.5,675 21.5,677 37.5,679.5 53.5,680 69.5,680 85.5,680 101.5,680 117.5,677.5 133.5,675 149.5,671.5 165.5,667.5 181.5,663.5 197.5,658.5 213.5,653.5 229.5,648.5 245.5,644.5 261.5,640.5 277.5,637 293.5,635 309.5,634 325.5,634 341.5,636 357.5,639 373.5,642 389.5,645.5 405.5,649 421.5,653 437.5,657.5 453.5,661.5 469.5,665.5 485.5,669.5 501.5,673.5 517.5,675.5 533.5,676.7 549.5,676.7 565.5,676.7 581.5,676.7 597.5,675.5 613.5,675 629.5,675 645.5,675 661.5,673.7 677.5,673.7 693.5,675 709.5,677 725.5,680 741.5,683 757.5,687 773.5,691 789.5,695 805.5,699.5 821.5,703.5 837.5,707 853.5,710.5 869.5,713.5 885.5,713.5 901.5,713.5 917.5,713 933.5,711.5 949.5,708.5 965.5,704.5 981.5,701.5 997.5,697.5 1013.5,693.5 1029.5,689.5 1045.5,686.5 1061.5,684 1077.5,683 1093.5,682.7 1109.5,682 1125.5,681.7 1141.5,681.7 1157.5,681.2 1173.5,679.8 1189.5,679.5 1205.5,679.5 1221.5,680.2 1237.5,681.5 1253.5,683.5 1269.5,687 1285.5,691 1301.5,696.5 1317.5,700" fill="none" stroke="#ff0000" stroke-width="2" stroke-linejoin="round" shape-rendering="crispEdges"/>
<polyline points="5.5,761 21.5,758 37.5,757 53.5,757 69.5,757 85.5,757 101.5,760 117.5,751 133.5,748.5 149.5,748.5 165.5,748.5 181.5,748.5 197.5,745 213.5,751 229.5,751 245.5,751 261.5,752.5 277.5,752.5 293.5,751 309.5,759 325.5,759 341.5,759 357.5,761 373.5,762 389.5,764.5 405.5,762 421.5,762 437.5,762.2 453.5,762.2 469.5,762.2 485.5,762.2 501.5,767 517.5,756 533.5,754 549.5,753.7 565.5,753.7 581.5,757 597.5,761 613.5,763.7 629.5,763.7 645.5,762 661.5,761.5 677.5,757.5 693.5,760 709.5,770.5 725.5,772.5 741.5,773.7 757.5,773 773.5,776 789.5,770 805.5,768 821.5,767.5 837.5,769.5 853.5,769.7 869.5,768 885.5,765.5 901.5,758 917.5,757.5 933.5,756.5 949.5,756.5 965.5,756.5 981.5,755.5 997.5,763 1013.5,759 1029.5,760.5 1045.5,763.7 1061.5,763.7 1077.5,762.5 1093.5,762.5 1109.5,759 1125.5,756 1141.5,755.8 1157.5,756 1173.5,758.5 1189.5,764 1205.5,762.5 1221.5,772 1237.5,772.7 1253.5,773.7 1269.5,775 1285.5,775 1301.5,769 1317.5,768.7" fill="none" stroke="#1e90ff" stroke-width="2" stroke-linejoin="round" shape-rendering="crispEdges"/>
<g shape-rendering="crispEdges" stroke="#000" stroke-width="1" stroke-dasharray="3 3">
<line x1="6" y1="740.5" x2="1599" y2="740.5"/>
<line x1="6" y1="763.5" x2="1599" y2="763.5"/>
<line x1="6" y1="789.5" x2="1599" y2="789.5"/>
</g>
<g shape-rendering="crispEdges" fill="none" stroke="#000" stroke-width="1">
<rect x="4.5" y="25.5" width="1598" height="597"/>
<rect x="4.5" y="624.5" width="1598" height="98"/>
<rect x="4.5" y="724.5" width="1598" height="77"/>
</g>
<polygon points="1340.5,26 1350.5,26 1345.5,31.5" fill="#000"/>
<g shape-rendering="crispEdges" fill="#000">
<rect x="1603" y="58" width="2" height="1"/>
<rect x="1603" y="91" width="2" height="1"/>
<rect x="1603" y="124" width="2" height="1"/>
<rect x="1603" y="157" width="2" height="1"/>
<rect x="1603" y="190" width="2" height="1"/>
<rect x="1603" y="223" width="2" height="1"/>
<rect x="1603" y="256" width="2" height="1"/>
<rect x="1603" y="289" width="2" height="1"/>
<rect x="1603" y="322" width="2" height="1"/>
<rect x="1603" y="355" width="2" height="1"/>
<rect x="1603" y="388" width="2" height="1"/>
<rect x="1603" y="421" width="2" height="1"/>
<rect x="1603" y="454" width="2" height="1"/>
<rect x="1603" y="487" width="2" height="1"/>
<rect x="1603" y="520" width="2" height="1"/>
<rect x="1603" y="553" width="2" height="1"/>
<rect x="1603" y="586" width="2" height="1"/>
<rect x="1603" y="619" width="2" height="1"/>
<rect x="1603" y="692" width="2" height="1"/>
<rect x="5" y="802" width="1" height="3"/>
<rect x="69" y="802" width="1" height="3"/>
<rect x="133" y="802" width="1" height="3"/>
<rect x="197" y="802" width="1" height="3"/>
<rect x="261" y="802" width="1" height="3"/>
<rect x="325" y="802" width="1" height="3"/>
<rect x="389" y="802" width="1" height="3"/>
<rect x="453" y="802" width="1" height="3"/>
<rect x="517" y="802" width="1" height="3"/>
<rect x="581" y="802" width="1" height="3"/>
<rect x="645" y="802" width="1" height="3"/>
<rect x="709" y="802" width="1" height="3"/>
<rect x="773" y="802" width="1" height="3"/>
<rect x="837" y="802" width="1" height="3"/>
<rect x="901" y="802" width="1" height="3"/>
<rect x="965" y="802" width="1" height="3"/>
<rect x="1029" y="802" width="1" height="3"/>
<rect x="1093" y="802" width="1" height="3"/>
<rect x="1157" y="802" width="1" height="3"/>
<rect x="1221" y="802" width="1" height="3"/>
<rect x="1285" y="802" width="1" height="3"/>
</g>
<polygon points="7.5,31.5 15.5,31.5 11.5,36" fill="#000"/>
<g>
<text transform="translate(1608,61.70) scale(0.9,1)" font-size="10.2" fill="#000" stroke="#000" stroke-width="0.22" >4206.790</text>
<text transform="translate(1608,94.70) scale(0.9,1)" font-size="10.2" fill="#000" stroke="#000" stroke-width="0.22" >4195.230</text>
<text transform="translate(1608,127.70) scale(0.9,1)" font-size="10.2" fill="#000" stroke="#000" stroke-width="0.22" >4184.010</text>
<text transform="translate(1608,160.70) scale(0.9,1)" font-size="10.2" fill="#000" stroke="#000" stroke-width="0.22" >4172.790</text>
<text transform="translate(1608,193.70) scale(0.9,1)" font-size="10.2" fill="#000" stroke="#000" stroke-width="0.22" >4161.230</text>
<text transform="translate(1608,226.70) scale(0.9,1)" font-size="10.2" fill="#000" stroke="#000" stroke-width="0.22" >4150.010</text>
<text transform="translate(1608,259.70) scale(0.9,1)" font-size="10.2" fill="#000" stroke="#000" stroke-width="0.22" >4138.790</text>
<text transform="translate(1608,292.70) scale(0.9,1)" font-size="10.2" fill="#000" stroke="#000" stroke-width="0.22" >4127.230</text>
<text transform="translate(1608,325.70) scale(0.9,1)" font-size="10.2" fill="#000" stroke="#000" stroke-width="0.22" >4116.010</text>
<text transform="translate(1608,358.70) scale(0.9,1)" font-size="10.2" fill="#000" stroke="#000" stroke-width="0.22" >4104.450</text>
<text transform="translate(1608,391.70) scale(0.9,1)" font-size="10.2" fill="#000" stroke="#000" stroke-width="0.22" >4093.230</text>
<text transform="translate(1608,424.70) scale(0.9,1)" font-size="10.2" fill="#000" stroke="#000" stroke-width="0.22" >4082.010</text>
<text transform="translate(1608,457.70) scale(0.9,1)" font-size="10.2" fill="#000" stroke="#000" stroke-width="0.22" >4070.790</text>
<text transform="translate(1608,490.70) scale(0.9,1)" font-size="10.2" fill="#000" stroke="#000" stroke-width="0.22" >4059.230</text>
<text transform="translate(1608,523.70) scale(0.9,1)" font-size="10.2" fill="#000" stroke="#000" stroke-width="0.22" >4048.010</text>
<text transform="translate(1608,556.70) scale(0.9,1)" font-size="10.2" fill="#000" stroke="#000" stroke-width="0.22" >4036.450</text>
<text transform="translate(1608,589.70) scale(0.9,1)" font-size="10.2" fill="#000" stroke="#000" stroke-width="0.22" >4025.230</text>
<text transform="translate(1608,622.70) scale(0.9,1)" font-size="10.2" fill="#000" stroke="#000" stroke-width="0.22" >4014.010</text>
<text transform="translate(1606,634.70) scale(0.9,1)" font-size="10.2" fill="#000" stroke="#000" stroke-width="0.22" >34.8418</text>
<text transform="translate(1606.5,695.70) scale(0.9,1)" font-size="10.2" fill="#000" stroke="#000" stroke-width="0.22" >0.00</text>
<text transform="translate(1606,719.20) scale(0.9,1)" font-size="10.2" fill="#000" stroke="#000" stroke-width="0.22" >-15.8305</text>
<text transform="translate(1606.5,734.70) scale(0.9,1)" font-size="10.2" fill="#000" stroke="#000" stroke-width="0.22" >100</text>
<text transform="translate(1605,743.70) scale(0.9,1)" font-size="10.2" fill="#000" stroke="#000" stroke-width="0.22" >80</text>
<text transform="translate(1605,766.70) scale(0.9,1)" font-size="10.2" fill="#000" stroke="#000" stroke-width="0.22" >50</text>
<text transform="translate(1605,792.70) scale(0.9,1)" font-size="10.2" fill="#000" stroke="#000" stroke-width="0.22" >15</text>
<text transform="translate(1606.5,798.70) scale(0.9,1)" font-size="10.2" fill="#000" stroke="#000" stroke-width="0.22" >0</text>
<text transform="translate(3.8,813.60) scale(0.9,1)" font-size="10.2" fill="#000" stroke="#000" stroke-width="0.22" word-spacing="0.7">31 Jan 2023</text>
<text transform="translate(67.8,813.60) scale(0.9,1)" font-size="10.2" fill="#000" stroke="#000" stroke-width="0.22" word-spacing="0.7">1 Feb 04:00</text>
<text transform="translate(131.8,813.60) scale(0.9,1)" font-size="10.2" fill="#000" stroke="#000" stroke-width="0.22" word-spacing="0.7">1 Feb 20:00</text>
<text transform="translate(195.8,813.60) scale(0.9,1)" font-size="10.2" fill="#000" stroke="#000" stroke-width="0.22" word-spacing="0.7">2 Feb 12:00</text>
<text transform="translate(259.8,813.60) scale(0.9,1)" font-size="10.2" fill="#000" stroke="#000" stroke-width="0.22" word-spacing="0.7">3 Feb 04:00</text>
<text transform="translate(323.8,813.60) scale(0.9,1)" font-size="10.2" fill="#000" stroke="#000" stroke-width="0.22" word-spacing="0.7">3 Feb 20:00</text>
<text transform="translate(387.8,813.60) scale(0.9,1)" font-size="10.2" fill="#000" stroke="#000" stroke-width="0.22" word-spacing="0.7">6 Feb 08:00</text>
<text transform="translate(451.8,813.60) scale(0.9,1)" font-size="10.2" fill="#000" stroke="#000" stroke-width="0.22" word-spacing="0.7">7 Feb 00:00</text>
<text transform="translate(515.8,813.60) scale(0.9,1)" font-size="10.2" fill="#000" stroke="#000" stroke-width="0.22" word-spacing="0.7">7 Feb 16:00</text>
<text transform="translate(579.8,813.60) scale(0.9,1)" font-size="10.2" fill="#000" stroke="#000" stroke-width="0.22" word-spacing="0.7">8 Feb 08:00</text>
<text transform="translate(643.8,813.60) scale(0.9,1)" font-size="10.2" fill="#000" stroke="#000" stroke-width="0.22" word-spacing="0.7">9 Feb 00:00</text>
<text transform="translate(707.8,813.60) scale(0.9,1)" font-size="10.2" fill="#000" stroke="#000" stroke-width="0.22" word-spacing="0.7">9 Feb 16:00</text>
<text transform="translate(771.8,813.60) scale(0.9,1)" font-size="10.2" fill="#000" stroke="#000" stroke-width="0.22" word-spacing="0.7">10 Feb 08:00</text>
<text transform="translate(835.8,813.60) scale(0.9,1)" font-size="10.2" fill="#000" stroke="#000" stroke-width="0.22" word-spacing="0.7">12 Feb 23:00</text>
<text transform="translate(899.8,813.60) scale(0.9,1)" font-size="10.2" fill="#000" stroke="#000" stroke-width="0.22" word-spacing="0.7">13 Feb 12:00</text>
<text transform="translate(963.8,813.60) scale(0.9,1)" font-size="10.2" fill="#000" stroke="#000" stroke-width="0.22" word-spacing="0.7">14 Feb 04:00</text>
<text transform="translate(1027.8,813.60) scale(0.9,1)" font-size="10.2" fill="#000" stroke="#000" stroke-width="0.22" word-spacing="0.7">14 Feb 20:00</text>
<text transform="translate(1091.8,813.60) scale(0.9,1)" font-size="10.2" fill="#000" stroke="#000" stroke-width="0.22" word-spacing="0.7">15 Feb 12:00</text>
<text transform="translate(1155.8,813.60) scale(0.9,1)" font-size="10.2" fill="#000" stroke="#000" stroke-width="0.22" word-spacing="0.7">16 Feb 04:00</text>
<text transform="translate(1219.8,813.60) scale(0.9,1)" font-size="10.2" fill="#000" stroke="#000" stroke-width="0.22" word-spacing="0.7">16 Feb 20:00</text>
<text transform="translate(1283.8,813.60) scale(0.9,1)" font-size="10.2" fill="#000" stroke="#000" stroke-width="0.22" word-spacing="0.7">17 Feb 12:00</text>
<text transform="translate(20,36.60) scale(0.9,1)" font-size="10.2" fill="#000" stroke="#000" stroke-width="0.22" >SP500-,H4&#160;&#160;4086.050 4090.050 4079.050 4087.750</text>
<text transform="translate(9,636.50) scale(0.9,1)" font-size="10.2" fill="#000" stroke="#000" stroke-width="0.22" letter-spacing="0.12">MACD(12,26,9) -13.2001 -4.6284</text>
<text transform="translate(9,736.50) scale(0.9,1)" font-size="10.2" fill="#000" stroke="#000" stroke-width="0.22" letter-spacing="0.1">RSI(14) 42.0728</text>
</g>
<rect x="1604" y="316" width="46" height="11" fill="#ff0000" shape-rendering="crispEdges"/>
<text transform="translate(1608,324.75) scale(0.9,1)" font-size="10.2" fill="#fff" stroke="#fff" stroke-width="0.22">4115.955</text>
<rect x="1604" y="357" width="46" height="11" fill="#ff0000" shape-rendering="crispEdges"/>
<text transform="translate(1608,365.75) scale(0.9,1)" font-size="10.2" fill="#fff" stroke="#fff" stroke-width="0.22">4101.893</text>
<rect x="1604" y="399" width="46" height="11" fill="#000000" shape-rendering="crispEdges"/>
<text transform="translate(1608,407.75) scale(0.9,1)" font-size="10.2" fill="#fff" stroke="#fff" stroke-width="0.22">4087.750</text>
<rect x="1604" y="411" width="46" height="11" fill="#ff8c00" shape-rendering="crispEdges"/>
<text transform="translate(1608,419.75) scale(0.9,1)" font-size="10.2" fill="#fff" stroke="#fff" stroke-width="0.22">4083.357</text>
<rect x="1604" y="447" width="46" height="11" fill="#0000ff" shape-rendering="crispEdges"/>
<text transform="translate(1608,455.75) scale(0.9,1)" font-size="10.2" fill="#fff" stroke="#fff" stroke-width="0.22">4071.000</text>
<rect x="1604" y="488" width="46" height="11" fill="#0000ff" shape-rendering="crispEdges"/>
<text transform="translate(1608,496.75) scale(0.9,1)" font-size="10.2" fill="#fff" stroke="#fff" stroke-width="0.22">4056.927</text>
</svg>
</body>
</html>
